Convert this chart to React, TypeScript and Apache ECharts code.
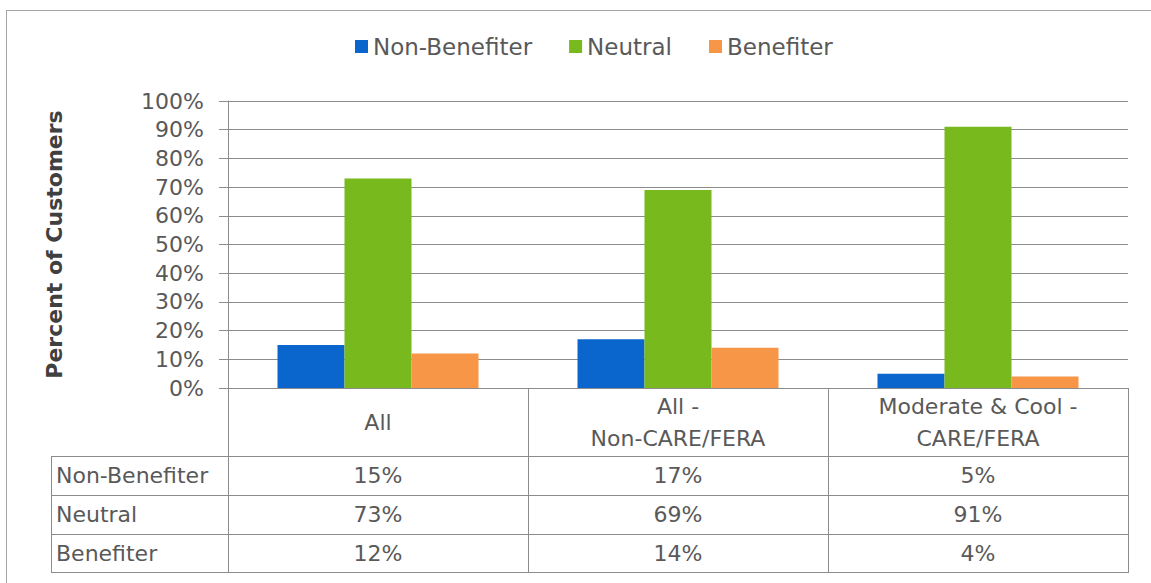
import React, { useEffect, useRef } from "react";
import * as echarts from "echarts";

const categories = ["All", "All -\nNon-CARE/FERA", "Moderate & Cool -\nCARE/FERA"];
const seriesNames = ["Non-Benefiter", "Neutral", "Benefiter"];
const nonBenefiter = [15, 17, 5];
const neutral = [73, 69, 91];
const benefiter = [12, 14, 4];
const yTicks = [0, 10, 20, 30, 40, 50, 60, 70, 80, 90, 100];
const colors = ["#0A66CC", "#78B91E", "#F79646"];

const FONT = "DejaVu Sans";
const TEXT = "#595959";
const LINE = "#8C8C8C";

export default function App() {
  const ref = useRef<HTMLDivElement>(null);
  useEffect(() => {
    if (!ref.current) return;
    const chart = echarts.init(ref.current, null, { renderer: "svg" });
    const gridLeft = 228;
    const gridTop = 101;
    const gridW = 900;
    const gridH = 287;
    const axisY = gridTop + gridH;
    const tableLeft = 51;
    const rowLines = [456, 495, 534, 572];
    const rowCenters = [475.5, 514.5, 553];
    const values = [nonBenefiter, neutral, benefiter];

    const extraAxes = values.map((vals, i) => ({
      type: "category",
      gridIndex: 0,
      position: "bottom",
      offset: rowCenters[i] - axisY,
      data: vals.map((v) => v + "%"),
      axisLine: { show: false },
      axisTick: { show: false },
      splitLine: { show: false },
      axisLabel: {
        interval: 0,
        margin: 0,
        verticalAlign: "middle",
        fontSize: 22,
        color: TEXT,
        fontFamily: FONT,
      },
    }));

    const graphics: any[] = [];
    // outer frame
    graphics.push({ type: "line", shape: { x1: 6, y1: 10.5, x2: 1151, y2: 10.5 }, style: { stroke: "#A6A6A6", lineWidth: 1 } });
    graphics.push({ type: "line", shape: { x1: 6.5, y1: 10, x2: 6.5, y2: 583 }, style: { stroke: "#A6A6A6", lineWidth: 1 } });
    // table rows
    rowLines.forEach((y) => {
      graphics.push({ type: "line", shape: { x1: tableLeft, y1: y + 0.5, x2: gridLeft + gridW, y2: y + 0.5 }, style: { stroke: LINE, lineWidth: 1 } });
    });
    graphics.push({ type: "line", shape: { x1: tableLeft + 0.5, y1: rowLines[0], x2: tableLeft + 0.5, y2: rowLines[3] + 1 }, style: { stroke: LINE, lineWidth: 1 } });
    seriesNames.forEach((name, i) => {
      graphics.push({
        type: "text",
        x: tableLeft + 5,
        y: rowCenters[i],
        style: { text: name, fontSize: 22, fill: TEXT, fontFamily: FONT, verticalAlign: "middle", align: "left" },
      });
    });

    chart.setOption({
      animation: false,
      textStyle: { fontFamily: FONT },
      color: colors,
      legend: {
        data: seriesNames,
        left: 350,
        top: 30,
        itemWidth: 13,
        itemHeight: 13,
        itemGap: 37,
        icon: "rect",
        textStyle: { fontSize: 23, color: TEXT, fontFamily: FONT },
      },
      grid: { left: gridLeft, top: gridTop, width: gridW, height: gridH, containLabel: false },
      xAxis: [
        {
          type: "category",
          data: categories,
          axisLine: { show: true, lineStyle: { color: LINE, width: 1 } },
          axisTick: { show: true, length: rowLines[3] - axisY + 1, interval: 0, lineStyle: { color: LINE, width: 1 } },
          axisLabel: {
            interval: 0,
            margin: 34,
            verticalAlign: "middle",
            lineHeight: 32,
            fontSize: 22,
            color: TEXT,
            fontFamily: FONT,
          },
        },
        ...extraAxes,
      ],
      yAxis: {
        type: "value",
        min: yTicks[0],
        max: yTicks[yTicks.length - 1],
        interval: 10,
        name: "Percent of Customers",
        nameLocation: "middle",
        nameGap: 163,
        nameRotate: 90,
        nameTextStyle: { fontSize: 22, fontWeight: "bold", color: "#404040", fontFamily: FONT },
        axisLine: { show: true, lineStyle: { color: LINE, width: 1 } },
        axisTick: { show: true, length: 9, lineStyle: { color: LINE, width: 1 } },
        splitLine: { show: true, lineStyle: { color: LINE, width: 1 } },
        axisLabel: { formatter: "{value}%", margin: 24, fontSize: 22, color: TEXT, fontFamily: FONT },
      },
      series: values.map((vals, i) => ({
        name: seriesNames[i],
        type: "bar",
        data: vals,
        barGap: "0%",
        barCategoryGap: "33%",
        itemStyle: { color: colors[i] },
      })),
      graphic: graphics,
    });
    return () => chart.dispose();
  }, []);
  return (
    <div
      ref={ref}
      style={{ position: "fixed", left: 0, top: 0, width: 1151, height: 583, background: "#ffffff" }}
    />
  );
}
